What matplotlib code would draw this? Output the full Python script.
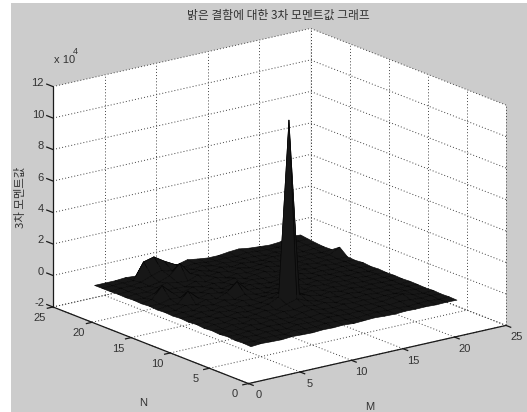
import numpy as np
import matplotlib
matplotlib.use("Agg")
import matplotlib.pyplot as plt
from matplotlib.patches import Rectangle
from mpl_toolkits.mplot3d import proj3d
from mpl_toolkits.mplot3d.art3d import Poly3DCollection

# values, in units of 10^4
# one row per N = 1..21, one column per M = 1..21
m_values = np.arange(1, 22)
n_values = np.arange(1, 22)
moment = np.array([
    [0.00, 0.05, 0.02, 0.00, 0.05, 0.02, 0.00, 0.04, 0.02, 0.05, 0.00, 0.03, 0.06, 0.02, 0.00, 0.04, 0.02, 0.03, 0.00, 0.02, 0.00],
    [0.03, 0.00, 0.06, 0.04, 0.00, 0.08, 0.05, 0.02, 0.10, 0.06, 0.04, 0.00, 0.05, 0.08, 0.03, 0.05, 0.00, 0.04, 0.06, 0.00, 0.02],
    [0.00, 0.08, 0.03, 0.10, 0.06, 0.00, 0.12, 0.08, 0.05, 0.15, 0.10, 0.05, 0.08, 0.00, 0.10, 0.05, 0.12, 0.08, 0.03, 0.05, 0.00],
    [0.05, 0.02, 0.10, 0.05, 0.12, 0.08, 0.04, 0.15, 0.10, 0.18, 0.06, 0.12, 0.03, 0.10, 0.06, 0.08, 0.15, 0.25, 0.06, 0.00, 0.03],
    [0.00, 0.06, 0.04, 0.15, 0.08, 0.18, 0.10, 0.05, 0.20, 0.25, 0.12, 0.06, 0.15, 0.08, 0.12, 0.04, 0.10, 0.08, 0.12, 0.05, 0.00],
    [0.04, 0.00, 0.12, 0.06, 0.20, 0.10, 0.15, 0.22, 0.18, 0.30, 0.15, 0.20, 0.05, 0.14, 0.06, 0.12, 0.05, 0.10, 0.03, 0.06, 0.02],
    [0.00, 0.08, 0.05, 0.18, 0.10, 0.15, 0.25, 0.12, 0.35, 0.55, 0.30, 0.10, 0.18, 0.08, 0.15, 0.06, 0.12, 0.04, 0.08, 0.00, 0.03],
    [0.05, 0.03, 0.15, 0.08, 0.22, 0.12, 0.18, 0.30, 0.60, 11.70, 0.50, 0.25, 0.12, 0.20, 0.08, 0.14, 0.05, 0.10, 0.06, 0.04, 0.00],
    [0.00, 0.10, 0.06, 0.20, 0.12, 0.25, 0.15, 0.20, 0.35, 0.60, 0.30, 0.18, 0.22, 0.10, 0.16, 0.08, 0.12, 0.05, 0.08, 0.03, 0.02],
    [0.04, 0.02, 0.15, 0.10, 0.18, 0.14, 0.30, 0.18, 0.25, 0.30, 0.20, 0.28, 0.12, 0.20, 0.10, 0.15, 0.06, 0.12, 0.04, 0.06, 0.00],
    [0.00, 0.08, 0.05, 0.22, 0.12, 0.28, 0.16, 0.35, 0.20, 0.15, 0.26, 0.14, 0.24, 0.08, 0.18, 0.06, 0.14, 0.05, 0.10, 0.02, 0.03],
    [0.03, 0.00, 0.18, 0.08, 0.25, 0.15, 0.40, 0.95, 0.30, 0.22, 0.12, 0.20, 0.10, 0.22, 0.12, 0.16, 0.08, 0.10, 0.04, 0.08, 0.00],
    [0.00, 0.10, 0.06, 0.75, 0.15, 0.30, 0.18, 0.25, 0.14, 0.28, 0.18, 0.10, 0.20, 0.14, 0.25, 0.10, 0.12, 0.06, 0.10, 0.03, 0.05],
    [0.04, 0.02, 0.20, 0.12, 0.28, 0.16, 0.30, 0.12, 0.24, 0.15, 0.25, 0.18, 0.12, 0.22, 0.10, 0.18, 0.08, 0.14, 0.05, 0.08, 0.00],
    [0.00, 0.12, 0.85, 0.25, 0.14, 0.32, 0.18, 0.26, 0.15, 0.30, 0.12, 0.22, 0.28, 0.10, 0.20, 0.12, 0.16, 0.06, 0.12, 0.04, 0.03],
    [0.03, 0.00, 0.15, 0.20, 0.20, 0.14, 0.35, 0.16, 0.30, 0.12, 0.24, 0.14, 0.20, 0.26, 0.12, 0.18, 0.10, 0.14, 0.06, 0.10, 0.45],
    [0.00, 0.08, 0.05, 0.18, 0.35, 0.22, 0.16, 0.40, 0.18, 0.28, 0.15, 0.25, 0.12, 0.18, 0.22, 0.10, 0.15, 0.08, 0.12, 0.05, 0.10],
    [0.02, 0.03, 0.12, 0.08, 0.20, 0.45, 1.10, 0.30, 0.35, 0.16, 0.26, 0.12, 0.22, 0.14, 0.10, 0.20, 0.12, 0.10, 0.06, 0.12, 0.08],
    [0.00, 0.06, 0.04, 0.15, 0.40, 0.60, 0.40, 0.35, 0.22, 0.30, 0.14, 0.20, 0.10, 0.18, 0.16, 0.08, 0.14, 0.06, 0.12, 0.15, 0.12],
    [0.00, 0.02, 0.05, 0.04, 1.10, 1.27, 0.85, 0.50, 0.18, 0.25, 0.18, 0.12, 0.16, 0.12, 0.20, 0.14, 0.08, 0.10, 0.05, 0.20, 0.18],
    [0.00, 0.00, 0.00, 0.05, 0.00, 0.40, 0.50, 0.30, 0.13, 0.30, 0.20, 0.12, 0.12, 0.20, 0.25, 0.15, 0.10, 0.05, 0.10, 0.30, 0.25],
])

m_ticks = [0, 5, 10, 15, 20, 25]
n_ticks = [0, 5, 10, 15, 20, 25]
z_ticks = [-2, 0, 2, 4, 6, 8, 10, 12]
m_lim = (0, 25)
n_lim = (0, 25)
z_lim = (-2, 12)

title = "밝은 결함에 대한 3차 모멘트값 그래프"
z_label = "3차 모멘트값"

W, H = 527, 412
kr_font = ["Noto Sans CJK KR", "DejaVu Sans"]
num_font = "Liberation Sans"
text_col = "#333333"
back_col = "#cccccc"

fig = plt.figure(figsize=(W / 100, H / 100), dpi=100, facecolor="white")
fig.add_artist(Rectangle((11 / W, 0), 1 - 11 / W, 1 - 3 / H, transform=fig.transFigure,
                         facecolor=back_col, edgecolor="none", zorder=-5))

ax = fig.add_axes([0.1, 0.1, 0.8, 0.8], projection="3d", proj_type="ortho", computed_zorder=False)
ax.view_init(elev=17.3, azim=-127.2)
ax.set_box_aspect((1, 1, 0.714))
ax.set_xlim(*m_lim)
ax.set_ylim(*n_lim)
ax.set_zlim(*z_lim)
ax.set_xticks([])
ax.set_yticks([])
ax.set_zticks([])
ax.set_axis_off()
ax.patch.set_visible(False)


def to_px(x, y, z):
    ax.apply_aspect()
    px, py, _ = proj3d.proj_transform(x, y, z, ax.get_proj())
    return ax.transData.transform((px, py))


# fit the box onto the place it has in the reference
left = to_px(m_lim[0], n_lim[1], z_lim[0])
right = to_px(m_lim[1], n_lim[0], z_lim[0])
top = to_px(m_lim[1], n_lim[1], z_lim[1])
front = to_px(m_lim[0], n_lim[0], z_lim[0])
s = 453 / (right[0] - left[0])
cur_x = (left[0] + right[0]) / 2
cur_y = (top[1] + front[1]) / 2
new_x = 279.5 - s * (cur_x - W / 2)
new_y = (H - 206) - s * (cur_y - H / 2)
w, h = 0.8 * s, 0.8 * s
ax.set_position([new_x / W - w / 2, new_y / H - h / 2, w, h])

# walls and floor
m0, m1 = m_lim
n0, n1 = n_lim
z0, z1 = z_lim
panes = [
    [(m0, n0, z0), (m1, n0, z0), (m1, n1, z0), (m0, n1, z0)],
    [(m0, n1, z0), (m1, n1, z0), (m1, n1, z1), (m0, n1, z1)],
    [(m1, n0, z0), (m1, n1, z0), (m1, n1, z1), (m1, n0, z1)],
]
ax.add_collection3d(Poly3DCollection(panes, facecolors="white", edgecolors="none", zorder=1))

# dotted grid
grid = dict(color="#404040", ls=(0, (1, 2.2)), lw=0.7, zorder=2, clip_on=False)
for m in m_ticks:
    ax.plot([m, m], [n0, n1], [z0, z0], **grid)
    ax.plot([m, m], [n1, n1], [z0, z1], **grid)
for n in n_ticks:
    ax.plot([m0, m1], [n, n], [z0, z0], **grid)
    ax.plot([m1, m1], [n, n], [z0, z1], **grid)
for z in z_ticks:
    ax.plot([m0, m1], [n1, n1], [z, z], **grid)
    ax.plot([m1, m1], [n0, n1], [z, z], **grid)

# solid axis lines and tick marks
line = dict(color="#1a1a1a", lw=0.9, zorder=3, clip_on=False)
ax.plot([m0, m1], [n0, n0], [z0, z0], **line)
ax.plot([m0, m0], [n0, n1], [z0, z0], **line)
ax.plot([m0, m0], [n1, n1], [z0, z1], **line)
for m in m_ticks:
    ax.plot([m, m], [n0, n0 - 0.6], [z0, z0], **line)
for n in n_ticks:
    ax.plot([m0, m0 - 0.55], [n, n], [z0, z0], **line)
for z in z_ticks:
    ax.plot([m0, m0], [n1, n1 + 0.8], [z, z], **line)

# surface
M, N = np.meshgrid(m_values, n_values)
ax.plot_surface(M, N, moment, rstride=1, cstride=1, color="#171717", edgecolor="#070707",
                linewidth=0.45, shade=False, antialiased=True, zorder=4)


# tick labels, placed through the projection so they are plain 2D texts
def tick_label(x, y, z, txt, ha):
    px, py = to_px(x, y, z)
    fig.text(px / W, py / H, txt, family=num_font, fontsize=8, color=text_col, ha=ha, va="center")


for m in m_ticks:
    tick_label(m, n0 - 1.3, z0 - 0.5, str(m), "center")
for n in n_ticks:
    tick_label(m0 - 1.3, n, z0 - 0.5, str(n), "center")
for z in z_ticks:
    tick_label(m0, n1 + 1.15, z, str(z), "right")

# titles and axis names
fig.text(278 / W, 1 - 15 / H, title, family=kr_font, fontsize=8.5, color=text_col, ha="center", va="center")
fig.text(20 / W, 1 - 197 / H, z_label, family=kr_font, fontsize=8.2, color=text_col, rotation=90,
         ha="center", va="center")
fig.text(143 / W, 1 - 403 / H, "N", family=num_font, fontsize=8, color=text_col, ha="center", va="center")
fig.text(370 / W, 1 - 407 / H, "M", family=num_font, fontsize=8, color=text_col, ha="center", va="center")
fig.text(54 / W, 1 - 60 / H, "x 10", family=num_font, fontsize=8, color=text_col, ha="left", va="center")
fig.text(73 / W, 1 - 51 / H, "4", family=num_font, fontsize=6.5, color=text_col, ha="left", va="center")

fig.savefig("out.png", dpi=100)
